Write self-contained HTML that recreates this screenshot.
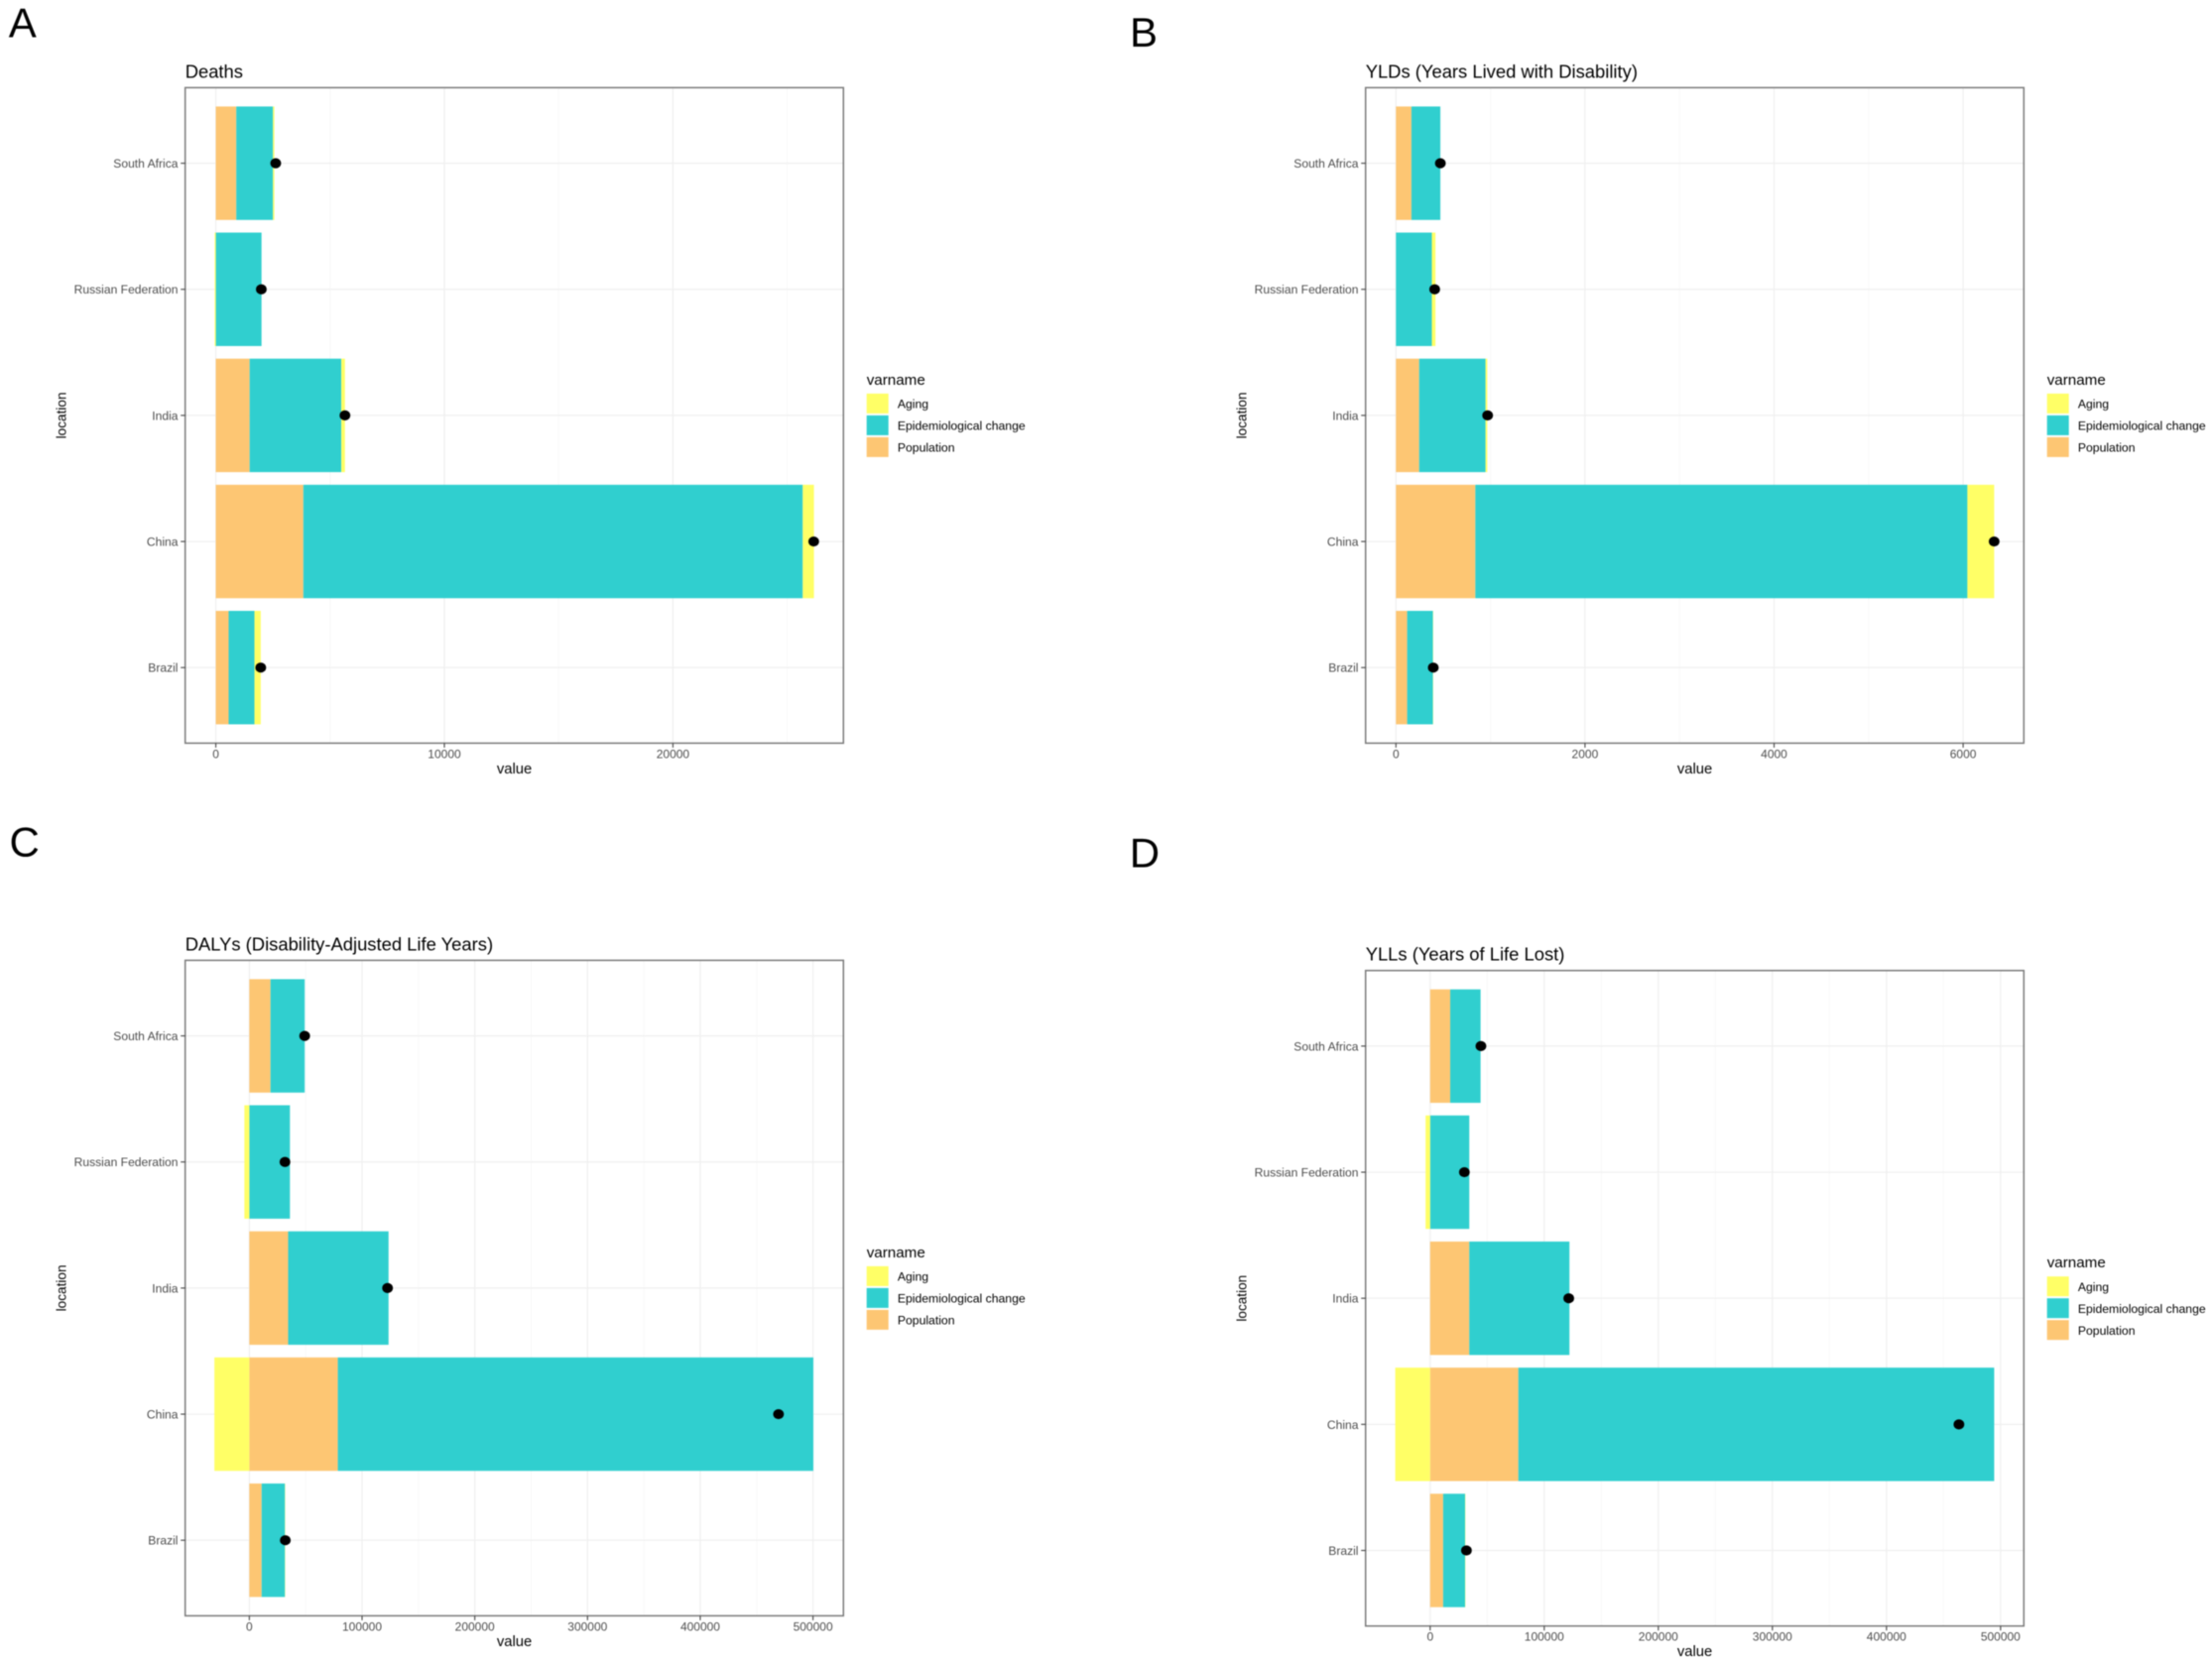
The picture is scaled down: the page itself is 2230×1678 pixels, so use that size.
<!DOCTYPE html>
<html lang="en">
<head>
<meta charset="utf-8">
<title>Decomposition of burden by location</title>
<style>
html,body{margin:0;padding:0;background:#fff;}
svg{display:block;font-family:"Liberation Sans",Arial,sans-serif;filter:blur(0.4px);}
</style>
</head>
<body>
<svg id="figure" xmlns="http://www.w3.org/2000/svg" width="2230" height="1678" viewBox="0 0 2230 1678"></svg>
<script>
// ---- shared categories (bottom to top) and legend ----
const locations = ["Brazil", "China", "India", "Russian Federation", "South Africa"];
const legendNames = ["Aging", "Epidemiological change", "Population"];

// ---- Deaths ----
const deathsPopulation = [560, 3830, 1480, 0, 895];
const deathsEpidemiological = [1130, 21850, 4010, 2000, 1605];
const deathsAging = [275, 490, 160, -50, 60];
const deathsTotal = [1965, 26160, 5650, 1990, 2620];
const deathsTicks = [0, 10000, 20000];
const deathsMinorTicks = [5000, 15000, 25000];
const deathsDomain = [-1340, 27460];

// ---- YLDs ----
const yldsPopulation = [119, 840, 246, 0, 164];
const yldsEpidemiological = [273, 5205, 702, 380, 306];
const yldsAging = [3, 283, 18, 38, 0];
const yldsTotal = [395, 6328, 970, 410, 470];
const yldsTicks = [0, 2000, 4000, 6000];
const yldsMinorTicks = [1000, 3000, 5000];
const yldsDomain = [-321, 6642];

// ---- DALYs ----
const dalysPopulation = [10900, 78500, 34400, 0, 18760];
const dalysEpidemiological = [20700, 421800, 89100, 36000, 30340];
const dalysAging = [300, -31000, 0, -4400, 0];
const dalysTotal = [31900, 469400, 122600, 31600, 49100];
const dalysTicks = [0, 100000, 200000, 300000, 400000, 500000];
const dalysMinorTicks = [50000, 150000, 250000, 350000, 450000];
const dalysDomain = [-56900, 527000];

// ---- YLLs ----
const yllsPopulation = [11400, 77300, 34300, 0, 17600];
const yllsEpidemiological = [19200, 417100, 87800, 34300, 26600];
const yllsAging = [300, -30600, 0, -4000, 0];
const yllsTotal = [31800, 463500, 121500, 30000, 44500];
const yllsTicks = [0, 100000, 200000, 300000, 400000, 500000];
const yllsMinorTicks = [50000, 150000, 250000, 350000, 450000];
const yllsDomain = [-56600, 520400];

const COLORS = {Aging: "#FFFF66", Epi: "#30CFCF", Pop: "#FDC673"};
const NS = "http://www.w3.org/2000/svg";
const svg = document.getElementById("figure");

function make(parent, tag, attrs, text) {
  const el = document.createElementNS(NS, tag);
  for (const k in attrs) el.setAttribute(k, attrs[k]);
  if (text !== undefined) el.textContent = text;
  parent.appendChild(el);
  return el;
}

function drawPanel(cfg) {
  const g = make(svg, "g", {});
  
  

  const L = cfg.left, R = cfg.left + 663.6, T = cfg.top, B = cfg.top + 661;
  const xScale = v => L + (v - cfg.domain[0]) / (cfg.domain[1] - cfg.domain[0]) * (R - L);
  const step = 127.15, bandH = 114.4;
  const yScale = i => B - 76.2 - i * step;

  const letter = make(g, "text", {x: cfg.letterX, y: cfg.letterY, "font-size": 42, fill: "#000"}, cfg.letter);
  
  

  const title = make(g, "text", {x: L, y: T - 10, "font-size": 18.4, fill: "#000"}, cfg.title);
  
  

  // grid
  cfg.minor.forEach(v => {
    const ln = make(g, "line", {x1: xScale(v), x2: xScale(v), y1: T, y2: B, stroke: "#f6f6f6", "stroke-width": 0.8});
    
    
  });
  cfg.ticks.forEach(v => {
    const ln = make(g, "line", {x1: xScale(v), x2: xScale(v), y1: T, y2: B, stroke: "#efefef", "stroke-width": 1.2});
    
    
  });
  locations.forEach((loc, i) => {
    const ln = make(g, "line", {x1: L, x2: R, y1: yScale(i), y2: yScale(i), stroke: "#efefef", "stroke-width": 1.2});
    
    
  });

  // bars
  locations.forEach((loc, i) => {
    let pos = 0, neg = 0;
    const parts = [
      ["population", cfg.population[i], COLORS.Pop],
      ["epidemiological", cfg.epi[i], COLORS.Epi],
      ["aging", cfg.aging[i], COLORS.Aging]
    ];
    parts.forEach(p => {
      const v = p[1];
      let a, b;
      if (v >= 0) { a = pos; b = pos + v; pos = b; }
      else { a = neg + v; b = neg; neg = a; }
      const bar = make(g, "rect", {
        x: xScale(a), y: yScale(i) - bandH / 2,
        width: Math.max(0, xScale(b) - xScale(a)), height: bandH, fill: p[2]
      });
      
      
    });
  });

  // total points
  locations.forEach((loc, i) => {
    const dot = make(g, "ellipse", {cx: xScale(cfg.total[i]), cy: yScale(i), rx: 5.4, ry: 5.1, fill: "#000"});
    
    
  });

  // border
  const frame = make(g, "rect", {x: L, y: T, width: R - L, height: B - T, fill: "none", stroke: "#7a7a7a", "stroke-width": 1.5});
  
  

  // y axis
  locations.forEach((loc, i) => {
    const tick = make(g, "line", {x1: L - 4.5, x2: L, y1: yScale(i), y2: yScale(i), stroke: "#444", "stroke-width": 1.1});
    
    
    const lab = make(g, "text", {x: L - 7.2, y: yScale(i) + 4.4, "font-size": 12.1, fill: "#4d4d4d", "text-anchor": "end"}, loc);
    
    
  });
  const cy = (T + B) / 2;
  const yTitle = make(g, "text", {x: L - 120, y: cy, "font-size": 13.6, fill: "#000", "text-anchor": "middle",
    transform: "rotate(-90 " + (L - 120) + " " + cy + ")"}, "location");
  
  

  // x axis
  cfg.ticks.forEach(v => {
    const tick = make(g, "line", {x1: xScale(v), x2: xScale(v), y1: B, y2: B + 4.5, stroke: "#444", "stroke-width": 1.1});
    
    
    const lab = make(g, "text", {x: xScale(v), y: B + 15, "font-size": 12, fill: "#4d4d4d", "text-anchor": "middle"}, String(v));
    
    
  });
  const xTitle = make(g, "text", {x: (L + R) / 2, y: B + 30.5, "font-size": 14.8, fill: "#000", "text-anchor": "middle"}, "value");
  
  

  // legend
  const lg = make(g, "g", {});
  
  
  const lx = R + 23.4;
  const lt = make(lg, "text", {x: lx, y: cy - 31, "font-size": 15.2, fill: "#000"}, "varname");
  
  
  const legendColors = [COLORS.Aging, COLORS.Epi, COLORS.Pop];
  legendNames.forEach((name, i) => {
    const sw = make(lg, "rect", {x: lx, y: cy - 22 + i * 22, width: 22, height: 20, fill: legendColors[i]});
    
    
    const tx = make(lg, "text", {x: lx + 31.2, y: cy - 7.2 + i * 21.9, "font-size": 12.2, fill: "#000"}, name);
    
    
  });
}

drawPanel({key: "deaths", letter: "A", letterX: 8.8, letterY: 37.5, title: "Deaths", left: 186.7, top: 88.4,
  domain: deathsDomain, ticks: deathsTicks, minor: deathsMinorTicks,
  population: deathsPopulation, epi: deathsEpidemiological, aging: deathsAging, total: deathsTotal});
drawPanel({key: "ylds", letter: "B", letterX: 1139, letterY: 47, title: "YLDs (Years Lived with Disability)", left: 1376.7, top: 88.4,
  domain: yldsDomain, ticks: yldsTicks, minor: yldsMinorTicks,
  population: yldsPopulation, epi: yldsEpidemiological, aging: yldsAging, total: yldsTotal});
drawPanel({key: "dalys", letter: "C", letterX: 9.5, letterY: 863.5, title: "DALYs (Disability-Adjusted Life Years)", left: 186.7, top: 968.4,
  domain: dalysDomain, ticks: dalysTicks, minor: dalysMinorTicks,
  population: dalysPopulation, epi: dalysEpidemiological, aging: dalysAging, total: dalysTotal});
drawPanel({key: "ylls", letter: "D", letterX: 1138.7, letterY: 874.7, title: "YLLs (Years of Life Lost)", left: 1376.7, top: 978.7,
  domain: yllsDomain, ticks: yllsTicks, minor: yllsMinorTicks,
  population: yllsPopulation, epi: yllsEpidemiological, aging: yllsAging, total: yllsTotal});
</script>
</body>
</html>
